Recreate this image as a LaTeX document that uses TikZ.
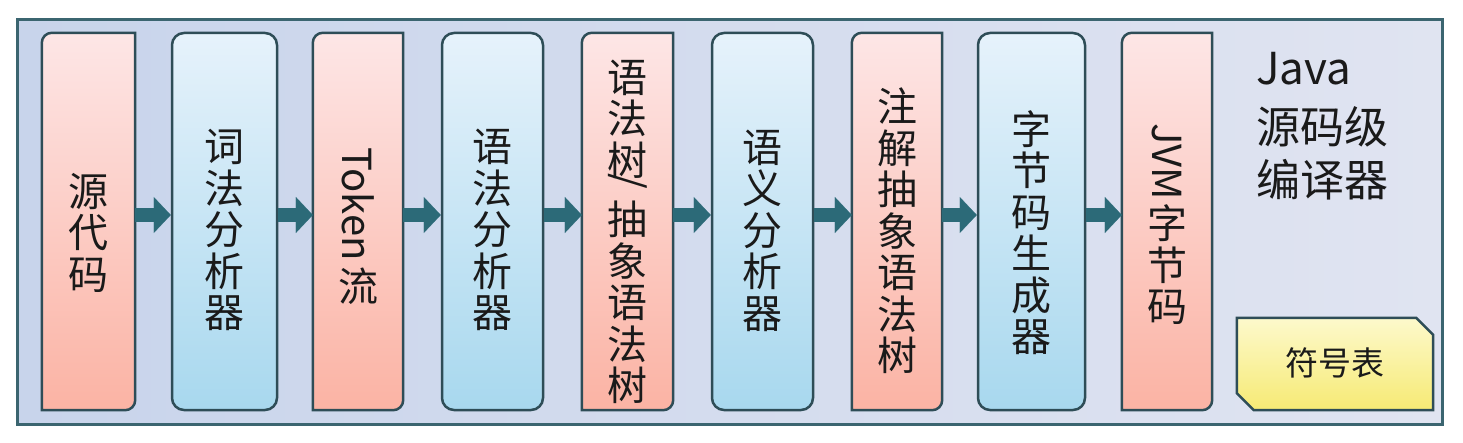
\documentclass[tikz,border=0pt]{standalone}
\usepackage{fontspec}
\usepackage{graphicx}
\newfontfamily\cjk{Noto Sans CJK SC}
\usetikzlibrary{arrows.meta}
\definecolor{framec}{HTML}{3B6570}
\definecolor{frameL}{HTML}{C8D4EB}
\definecolor{frameR}{HTML}{E0E4F1}
\definecolor{boxline}{HTML}{2E4D57}
\definecolor{pinkT}{HTML}{FDE6E6}
\definecolor{pinkB}{HTML}{FBB3A4}
\definecolor{blueT}{HTML}{E6F2FB}
\definecolor{blueB}{HTML}{A8D8EE}
\definecolor{yellowT}{HTML}{FDF9CC}
\definecolor{yellowB}{HTML}{F6EA74}
\definecolor{arrowc}{HTML}{2C6A78}
\definecolor{textc}{HTML}{1A1A1A}
\newcommand\rot[1]{\rotatebox[origin=c]{-90}{#1}}
\begin{document}
\begin{tikzpicture}[x=1pt,y=1pt,
  framebox/.style={rectangle, inner sep=0pt, minimum width=1425pt, minimum height=404pt,
    draw=framec, line width=3pt, left color=frameL, right color=frameR},
  boxbase/.style={rectangle, inner sep=0pt, minimum height=377pt},
  bluebox/.style={boxbase, draw=boxline, line width=2.5pt, rounded corners=12pt,
    top color=blueT, bottom color=blueB},
  pinkfill/.style={draw=boxline, line width=2.5pt, top color=pinkT, bottom color=pinkB},
  yellowfill/.style={draw=boxline, line width=2.5pt, top color=yellowT, bottom color=yellowB},
  vtext/.style={font=\cjk\fontsize{40}{41.5}\selectfont, align=center, inner sep=0pt, text=textc},
  flow/.style={draw=arrowc, line width=14pt, -{Triangle[length=17pt,width=36pt,line width=0.1pt]}}
]
\useasboundingbox (0,0) rectangle (1463,442);
\node[framebox] (frame) at (729.5,220) {};

% boxes
\node[boxbase, minimum width=93pt] (b1) at (88.5,220.5) {};
\node[bluebox, minimum width=105pt] (b2) at (224.5,220.5) {};
\node[boxbase, minimum width=90pt] (b3) at (358,220.5) {};
\node[bluebox, minimum width=101pt] (b4) at (492.5,220.5) {};
\node[boxbase, minimum width=91pt] (b5) at (627.5,220.5) {};
\node[bluebox, minimum width=101pt] (b6) at (762.5,220.5) {};
\node[boxbase, minimum width=90pt] (b7) at (897,220.5) {};
\node[bluebox, minimum width=107pt] (b8) at (1031.5,220.5) {};
\node[boxbase, minimum width=90pt] (b9) at (1167,220.5) {};
\node[rectangle, inner sep=0pt, minimum width=196pt, minimum height=92pt] (sym) at (1335,78) {};

\foreach \b in {b1,b3,b5,b7,b9}{
  \path[pinkfill] (\b.south west) -- ([yshift=-10pt]\b.north west)
    arc[start angle=180,end angle=90,radius=10pt] -- (\b.north east)
    -- ([yshift=10pt]\b.south east) arc[start angle=0,end angle=-90,radius=10pt] -- cycle;
}
\path[yellowfill] ([xshift=17pt]sym.south west) -- ([yshift=17pt]sym.south west)
  -- (sym.north west) -- ([xshift=-17pt]sym.north east) -- ([yshift=-17pt]sym.north east)
  -- (sym.south east) -- cycle;

% arrows
\draw[flow] ([yshift=6.5pt]b1.east) -- ([yshift=6.5pt]b2.west);
\draw[flow] ([yshift=6.5pt]b2.east) -- ([yshift=6.5pt]b3.west);
\draw[flow] ([yshift=6.5pt]b3.east) -- ([yshift=6.5pt]b4.west);
\draw[flow] ([yshift=6.5pt]b4.east) -- ([yshift=6.5pt]b5.west);
\draw[flow] ([yshift=6.5pt]b5.east) -- ([yshift=6.5pt]b6.west);
\draw[flow] ([yshift=6.5pt]b6.east) -- ([yshift=6.5pt]b7.west);
\draw[flow] ([yshift=6.5pt]b7.east) -- ([yshift=6.5pt]b8.west);
\draw[flow] ([yshift=6.5pt]b8.east) -- ([yshift=6.5pt]b9.west);

% texts
\node[vtext] (t1) at (88.5,209.5) {源\\代\\码};
\node[vtext] (t2) at (224.5,212) {词\\法\\分\\析\\器};
\node[vtext] (t3) at (358,216) {\rot{Token}\\[6pt]流};
\node[vtext] (t4) at (492.5,212) {语\\法\\分\\析\\器};
\node[vtext] (t5) at (627.5,210) {语\\法\\树\\[-23.5pt]\smash{\rot{/}}\\抽\\象\\语\\法\\树};
\node[vtext] (t6) at (762.5,211.5) {语\\义\\分\\析\\器};
\node[vtext] (t7) at (897,211) {注\\解\\抽\\象\\语\\法\\树};
\node[vtext] (t8) at (1031.5,209.5) {字\\节\\码\\生\\成\\器};
\node[vtext] (t9) at (1167,218) {\rot{JVM}\\[4pt]字\\节\\码};

\node[font=\cjk\fontsize{44}{53}\selectfont, align=left, inner sep=0pt, anchor=base west, text=textc]
  (title) at (1256,245) {Java\\[6pt]源码级\\编译器};
\node[font=\cjk\fontsize{33}{36}\selectfont, inner sep=0pt, text=textc] (symt) at (1335,79) {符号表};
\end{tikzpicture}
\end{document}
